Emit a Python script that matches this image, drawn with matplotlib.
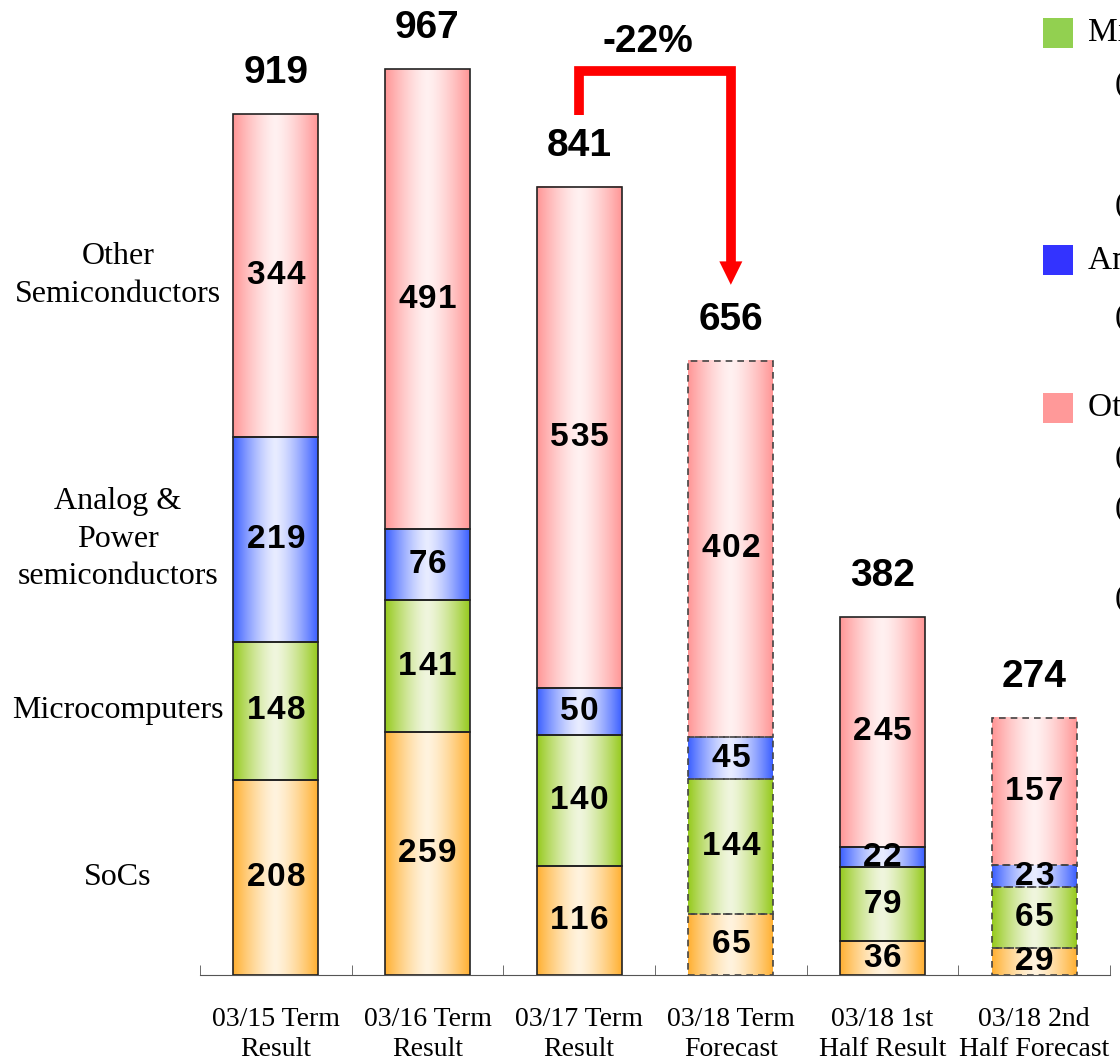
import numpy as np
import matplotlib
matplotlib.use('Agg')
import matplotlib.pyplot as plt
from matplotlib.patches import Rectangle

periods = ['03/15 Term\nResult', '03/16 Term\nResult', '03/17 Term\nResult',
           '03/18 Term\nForecast', '03/18 1st\nHalf Result', '03/18 2nd\nHalf Forecast']
forecast = [False, False, False, True, False, True]

socs = [208, 259, 116, 65, 36, 29]
micro = [148, 141, 140, 144, 79, 65]
analog = [219, 76, 50, 45, 22, 23]
other = [344, 491, 535, 402, 245, 157]
totals = [919, 967, 841, 656, 382, 274]

segment_names = ['SoCs', 'Microcomputers', 'Analog &\nPower\nsemiconductors',
                 'Other\nSemiconductors']

legend_names = ['Microcomputers', 'Analog & Power semiconductors', 'Other Semiconductors']
legend_notes = [['(Automotive, Industrial)', '(General purpose)'],
                ['(Power devices)'],
                ['(Discrete)', '(Optical devices)', '(Others)']]

# edge colour / centre colour of each gradient
grad_colors = [((255, 176, 50), (255, 243, 222)),
               ((150, 202, 30), (240, 246, 222)),
               ((60, 96, 255), (232, 236, 255)),
               ((255, 150, 150), (255, 241, 241))]
legend_colors = ['#92d050', '#3333ff', '#ff9999']

SERIF = 'Liberation Serif'
SANS = 'Liberation Sans'


def gradient(edge, mid, n=120):
    u = np.linspace(0, 1, n)
    t = np.abs(2 * u - 1) ** 1.4
    edge = np.array(edge) / 255
    mid = np.array(mid) / 255
    row = mid[None, :] + (edge - mid)[None, :] * t[:, None]
    return row[None, :, :]


def spaced_text(ax, x, y, s, step=14.4, **kw):
    # draw digits one by one so they sit a little further apart
    n = len(s)
    for j, ch in enumerate(s):
        dx = (j - (n - 1) / 2) * step
        ax.annotate(ch, (x, y), xytext=(dx, 0), textcoords='offset points',
                    ha='center', va='center', **kw)


fig = plt.figure(figsize=(11.2, 10.61), dpi=100)
ax = fig.add_axes([200 / 1120, 86 / 1061, 910 / 1120, 936.5 / 1061])

width = 0.56
x = np.arange(len(periods))
stack = [socs, micro, analog, other]

for i in x:
    bottom = 0
    ls = (0, (4, 3)) if forecast[i] else 'solid'
    ec = '#444444' if forecast[i] else '#222222'
    for k, vals in enumerate(stack):
        v = vals[i]
        ax.imshow(gradient(*grad_colors[k]), extent=[i - width / 2, i + width / 2, bottom, bottom + v],
                  aspect='auto', interpolation='bilinear', zorder=2)
        ax.add_patch(Rectangle((i - width / 2, bottom), width, v, fill=False,
                               edgecolor=ec, linewidth=1.2, linestyle=ls, zorder=3))
        spaced_text(ax, i, bottom + v / 2, str(v), fontsize=24, fontweight='bold',
                    family=SANS, zorder=4)
        bottom += v
    ax.annotate(str(totals[i]), (i, totals[i]), xytext=(0, 29.5), textcoords='offset points',
                ha='center', va='center', fontsize=28, fontweight='bold', family=SANS,
                annotation_clip=False)

# segment names next to the first bar
bottom = 0
for k, vals in enumerate(stack):
    ax.text(-1.04, bottom + vals[0] / 2, segment_names[k], ha='center', va='center',
            fontsize=23, family=SERIF, linespacing=1.38, clip_on=False)
    bottom += vals[0]

# drop from 03/17 to 03/18 forecast
ax.plot([2, 2, 3, 3], [918, 965, 965, 760], color='red', lw=7,
        solid_capstyle='butt', solid_joinstyle='miter', clip_on=False, zorder=5)
ax.fill([3 - 0.076, 3 + 0.076, 3], [762, 762, 737], color='red', lw=0, clip_on=False, zorder=5)
ax.text(2.455, 996, '-22%', ha='center', va='center', fontsize=28,
        fontweight='bold', family=SANS, clip_on=False)

ax.set_xlim(-0.5, 5.5)
ax.set_ylim(0, 1000)
for side in ['top', 'left', 'right']:
    ax.spines[side].set_visible(False)
ax.spines['bottom'].set_color('#555555')
ax.set_yticks([])
ax.set_xticks([])
ax.set_xticks(np.arange(-0.5, 6, 1), minor=True)
ax.tick_params(axis='x', which='minor', direction='in', length=7, color='#555555')

for i, lab in enumerate(periods):
    ax.text(i, -34, lab, ha='center', va='top', fontsize=20, family=SERIF,
            linespacing=1.28, clip_on=False)

# legend block at the right edge
leg_y = [33, 260, 408]
note_y = [[85, 205], [318], [457, 508, 598]]
for k in range(3):
    yc = leg_y[k]
    fig.patches.append(Rectangle((1043 / 1120, 1 - (yc + 15) / 1061), 30 / 1120, 30 / 1061,
                                 transform=fig.transFigure, facecolor=legend_colors[k],
                                 edgecolor='none'))
    fig.text(1088 / 1120, 1 - yc / 1061, legend_names[k], ha='left', va='center',
             fontsize=24, family=SERIF)
    for note, ny in zip(legend_notes[k], note_y[k]):
        fig.text(1115 / 1120, 1 - ny / 1061, note, ha='left', va='center',
                 fontsize=23, family=SERIF)

fig.savefig('out.png', dpi=100)
